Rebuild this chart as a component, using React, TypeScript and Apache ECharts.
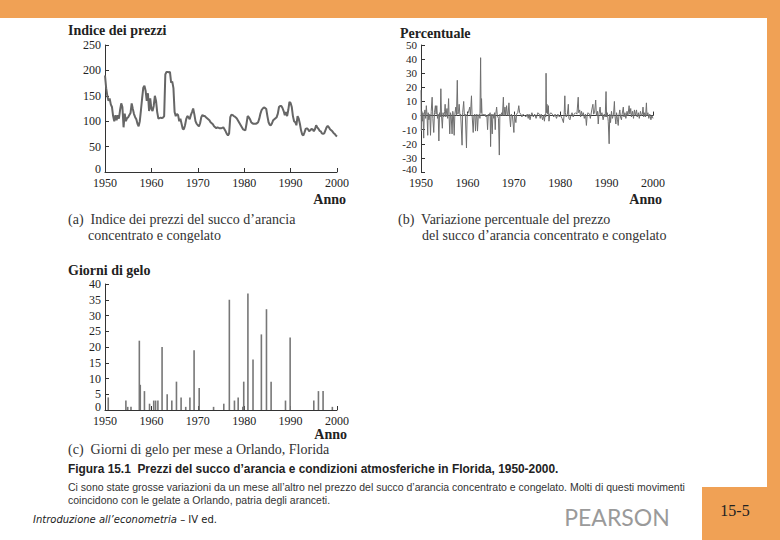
import React, { useEffect, useRef } from "react";
import * as echarts from "echarts";

// (a) price index, quarterly readings from 1950.00 to 2000.00
const PRICE_START = 1950;
const PRICE_STEP = 0.25;
const priceIndex = [
  190, 165, 150, 140,
  145, 133, 128, 110,
  100, 112, 102, 112,
  105, 122, 135, 128,
  88, 115, 100, 106,
  108, 112, 116, 135,
  124, 114, 108, 104,
  95, 90, 100, 122,
  145, 166, 170, 160,
  140, 155, 120, 145,
  124, 120, 130, 150,
  140, 118, 105, 106,
  107, 106, 107, 110,
  192, 197, 197, 196,
  197, 176, 178, 165,
  118, 110, 114, 112,
  100, 105, 95, 85,
  84, 92, 104, 110,
  108, 104, 112, 118,
  125, 114, 100, 95,
  92, 90, 96, 108,
  112, 110, 110, 108,
  106, 104, 102, 98,
  96, 94, 90, 88,
  86, 88, 87, 86,
  86, 87, 88, 84,
  80, 75, 72, 76,
  108, 113, 112, 110,
  109, 107, 104, 100,
  96, 92, 88, 84,
  83, 82, 95, 110,
  108, 104, 98, 96,
  95, 95, 95, 96,
  98, 105, 115, 122,
  125, 127, 126, 124,
  110, 98, 93, 92,
  96, 102, 104, 106,
  108, 115, 128, 130,
  130, 126, 120, 112,
  118, 110, 122, 138,
  136, 128, 110, 100,
  98, 92, 110, 105,
  95, 82, 74, 72,
  78, 85, 86, 84,
  80, 82, 85, 84,
  80, 84, 92, 88,
  85, 81, 80, 76,
  75, 76, 82, 88,
  91, 88, 84, 82,
  80, 77, 75, 72,
  70,
];

// (b) percent change [year, %]
const pctChange: [number, number][] = [
  [1950.0, 18], [1950.08, -11], [1950.17, 3], [1950.3, -4], [1950.42, 2], [1950.58, -16], [1950.7, 1], [1950.85, 4],
  [1951.0, -2], [1951.15, 7], [1951.3, 0], [1951.45, -14], [1951.55, 2], [1951.7, -3], [1951.9, 1],
  [1952.05, -14], [1952.2, 3], [1952.4, 13], [1952.55, -2], [1952.75, -12], [1952.9, 2],
  [1953.1, 7], [1953.25, 1], [1953.4, 7], [1953.55, -2], [1953.7, 1], [1953.85, -18], [1954.0, 2],
  [1954.15, -1], [1954.28, 19], [1954.42, 0], [1954.6, -9], [1954.75, 2], [1954.9, -1],
  [1955.1, 3], [1955.2, 8], [1955.35, -1], [1955.6, 5], [1955.75, -2], [1955.95, 12],
  [1956.05, 0], [1956.2, -13], [1956.35, 2], [1956.5, 0], [1956.7, -13], [1956.85, 3],
  [1957.0, -1], [1957.15, -14], [1957.3, 1], [1957.5, 6], [1957.65, 0], [1957.82, 25], [1957.95, 1],
  [1958.1, 3], [1958.22, 8], [1958.4, 0], [1958.55, 1], [1958.85, -21], [1958.98, 2],
  [1959.2, 10], [1959.35, 0], [1959.55, 1], [1959.8, -23], [1959.95, 1],
  [1960.2, 2], [1960.5, 6], [1960.65, 0], [1960.88, 14], [1961.0, 1],
  [1961.25, -12], [1961.4, 0], [1961.6, 1], [1961.75, -11], [1961.9, 0],
  [1962.05, 1], [1962.18, -11], [1962.35, 0], [1962.6, 1], [1962.7, -2], [1962.85, 41], [1962.95, 2],
  [1963.05, 12], [1963.15, 0], [1963.4, 1], [1963.6, 0], [1963.8, 1],
  [1964.0, -1], [1964.2, 0], [1964.35, -10], [1964.5, 1], [1964.7, 0], [1964.9, 2],
  [1965.0, -22], [1965.12, 1], [1965.35, -13], [1965.5, 1], [1965.7, -2], [1965.85, 2],
  [1966.0, -10], [1966.12, 1], [1966.3, 6], [1966.45, 0], [1966.7, -2], [1966.88, -28],
  [1967.0, 1], [1967.2, 0], [1967.4, 2], [1967.55, 0], [1967.75, 13], [1967.88, 0],
  [1968.1, 6], [1968.25, 0], [1968.45, 7], [1968.6, 1], [1968.75, 0], [1968.95, 9],
  [1969.1, 0], [1969.3, -8], [1969.45, 1], [1969.7, 0],
  [1970.02, -12], [1970.15, 1], [1970.45, -5], [1970.6, 1], [1970.85, 2],
  [1971.08, 7], [1971.25, 2], [1971.5, 1], [1971.75, -1],
  [1972.0, 1], [1972.3, 0], [1972.6, -1], [1972.9, 1],
  [1973.1, -2], [1973.3, 1], [1973.5, -3], [1973.7, 0], [1973.9, 2],
  [1974.2, -1], [1974.5, 1], [1974.8, -2],
  [1975.0, 0], [1975.2, 2], [1975.5, 1], [1975.7, -2], [1975.9, 1],
  [1976.2, -3], [1976.4, 0], [1976.6, -4], [1976.75, 1], [1976.88, -1], [1976.95, 30],
  [1977.05, 2], [1977.15, 8], [1977.3, 1], [1977.45, 7], [1977.58, -4], [1977.75, 1],
  [1978.0, 2], [1978.3, 1], [1978.6, -1], [1978.9, 1],
  [1979.2, -2], [1979.5, 1], [1979.8, -1],
  [1980.1, 0], [1980.4, -2], [1980.7, -5], [1980.85, 1],
  [1981.0, 14], [1981.1, 2], [1981.3, -1], [1981.55, 1], [1981.75, 8], [1981.88, -2],
  [1982.1, -3], [1982.3, 0], [1982.55, 2], [1982.8, -1],
  [1983.0, 1], [1983.3, 2], [1983.6, 1], [1983.88, 13],
  [1984.0, 2], [1984.2, 4], [1984.4, -1], [1984.6, 3], [1984.8, 0],
  [1985.0, 2], [1985.2, -2], [1985.45, 1], [1985.65, -7], [1985.8, 0],
  [1986.0, 2], [1986.3, 1], [1986.5, -2], [1986.8, 4],
  [1987.05, 8], [1987.2, 1], [1987.4, 2], [1987.65, 11], [1987.8, 0],
  [1988.05, 3], [1988.2, -6], [1988.35, 1], [1988.6, 6], [1988.75, 0],
  [1989.0, 2], [1989.25, -3], [1989.5, 1], [1989.7, -1], [1989.88, 17],
  [1990.0, -1], [1990.15, 2], [1990.35, -4], [1990.55, -20], [1990.68, 1], [1990.85, -5],
  [1991.05, 3], [1991.25, -2], [1991.5, 1], [1991.68, 10], [1991.8, 0],
  [1992.0, -6], [1992.15, 2], [1992.35, -3], [1992.5, -7], [1992.65, 0], [1992.85, 4],
  [1993.0, -1], [1993.2, -3], [1993.35, 1], [1993.6, 6], [1993.75, -1], [1993.95, 2],
  [1994.15, -2], [1994.4, 3], [1994.6, 0], [1994.85, 7],
  [1995.0, 1], [1995.2, 5], [1995.35, -1], [1995.6, 3], [1995.8, -2],
  [1996.0, 4], [1996.2, 0], [1996.45, 4], [1996.6, -1], [1996.85, 2],
  [1997.05, -2], [1997.3, 3], [1997.5, 0], [1997.7, 1], [1997.85, 6],
  [1998.0, -1], [1998.2, 2], [1998.4, -1], [1998.58, 9], [1998.7, 0], [1998.9, 2],
  [1999.1, -2], [1999.3, 1], [1999.55, -3], [1999.75, 0], [2000.0, -2],
];

// (c) frost days per month [year, days]
const frostDays: [number, number][] = [
  [1950.7, 4], [1954.5, 3], [1954.9, 1], [1955.6, 1], [1957.4, 22], [1957.6, 8], [1958.5, 6],
  [1959.6, 2], [1960.5, 3], [1960.9, 3], [1961.4, 3], [1962.3, 20], [1963.4, 5], [1964.4, 3],
  [1965.4, 9], [1966.4, 4], [1967.4, 1], [1968.3, 4], [1969.2, 19], [1970.3, 7], [1973.4, 1],
  [1975.6, 2], [1976.8, 35], [1977.9, 3], [1978.7, 4], [1979.7, 1], [1979.9, 9], [1980.8, 37],
  [1981.9, 16], [1983.7, 24], [1984.8, 32], [1985.8, 9], [1988.9, 3], [1989.9, 23],
  [1995.0, 3], [1996.0, 6], [1997.0, 6], [1999.0, 1],
];

const ORANGE = "#F0A155";
const SERIF = '"Liberation Serif", "Times New Roman", serif';
const AXIS = "#333";

function axisX(grid: number) {
  return {
    gridIndex: grid,
    type: "value",
    min: 1950,
    max: 2000,
    interval: 10,
    axisLine: { show: true, lineStyle: { color: AXIS, width: 1 } },
    axisTick: { show: true, inside: true, length: 4, lineStyle: { color: AXIS } },
    axisLabel: {
      margin: 5,
      color: "#222",
      fontFamily: SERIF,
      fontSize: 12,
      formatter: (v: number) => String(v),
    },
    splitLine: { show: false },
  };
}

function axisY(grid: number, min: number, max: number, interval: number, fs: number) {
  return {
    gridIndex: grid,
    type: "value",
    min,
    max,
    interval,
    axisLine: { show: true, lineStyle: { color: AXIS, width: 1 } },
    axisTick: { show: true, inside: true, length: 4, lineStyle: { color: AXIS } },
    axisLabel: {
      margin: 4,
      color: "#222",
      fontFamily: SERIF,
      fontSize: fs,
      formatter: (v: number) => (v === min ? `{z|${v}}` : String(v)),
      rich: {
        z: { fontFamily: SERIF, fontSize: fs, color: "#222", padding: [0, 0, 6, 0] },
      },
    },
    splitLine: { show: false },
  };
}

function txt(x: number, y: number, text: string, font: string, fill = "#222", align = "left") {
  return {
    type: "text",
    x,
    y,
    style: { text, font, fill, align, verticalAlign: "middle" },
  };
}

export default function App() {
  const ref = useRef<HTMLDivElement>(null);

  useEffect(() => {
    if (!ref.current) return;
    const chart = echarts.init(ref.current, undefined, { renderer: "svg" });
    const priceData = priceIndex.map((v, i) => [PRICE_START + i * PRICE_STEP, v]);

    const titleFont = `bold 14px ${SERIF}`;
    const capFont = `14px ${SERIF}`;
    const sans = '"Liberation Sans", Arial, sans-serif';

    chart.setOption({
      animation: false,
      backgroundColor: "#ffffff",
      grid: [
        { left: 105, top: 45, width: 232, height: 127 },
        { left: 421, top: 45, width: 232, height: 127 },
        { left: 105, top: 284, width: 232, height: 126 },
      ],
      xAxis: [axisX(0), axisX(1), axisX(2)],
      yAxis: [
        axisY(0, 0, 250, 50, 12),
        axisY(1, -40, 50, 10, 11),
        axisY(2, 0, 40, 5, 12),
      ],
      series: [
        {
          type: "line",
          xAxisIndex: 0,
          yAxisIndex: 0,
          data: priceData,
          showSymbol: false,
          lineStyle: { color: "#666", width: 2 },
        },
        {
          type: "line",
          xAxisIndex: 1,
          yAxisIndex: 1,
          data: pctChange,
          showSymbol: false,
          lineStyle: { color: "#6e6e6e", width: 1 },
        },
        {
          type: "bar",
          xAxisIndex: 2,
          yAxisIndex: 2,
          data: frostDays,
          barWidth: 1.6,
          itemStyle: { color: "#777" },
        },
      ],
      graphic: [
        { type: "rect", shape: { x: 0, y: 0, width: 780, height: 18 }, style: { fill: ORANGE } },
        { type: "rect", shape: { x: 767, y: 0, width: 13, height: 540 }, style: { fill: ORANGE } },
        { type: "rect", shape: { x: 702, y: 487, width: 78, height: 53 }, style: { fill: ORANGE } },
        txt(735, 510, "15-5", `16px ${SERIF}`, "#222", "center"),

        txt(68, 30, "Indice dei prezzi", titleFont),
        txt(346, 199, "Anno", titleFont, "#222", "right"),
        txt(68, 219, "(a)  Indice dei prezzi del succo d\u2019arancia", capFont, "#333"),
        txt(88, 235, "concentrato e congelato", capFont, "#333"),

        txt(400, 33, "Percentuale", titleFont),
        txt(662, 199, "Anno", titleFont, "#222", "right"),
        txt(398, 219, "(b)  Variazione percentuale del prezzo", capFont, "#333"),
        txt(422, 235, "del succo d\u2019arancia concentrato e congelato", capFont, "#333"),

        txt(68, 270, "Giorni di gelo", titleFont),
        txt(347, 434, "Anno", titleFont, "#222", "right"),
        txt(68, 449, "(c)  Giorni di gelo per mese a Orlando, Florida", capFont, "#333"),

        txt(68, 469, "Figura 15.1  Prezzi del succo d\u2019arancia e condizioni atmosferiche in Florida, 1950-2000.", `bold 11.9px ${sans}`, "#222"),
        txt(68, 487, "Ci sono state grosse variazioni da un mese all\u2019altro nel prezzo del succo d\u2019arancia concentrato e congelato. Molti di questi movimenti", `10.5px ${sans}`, "#333"),
        txt(68, 500, "coincidono con le gelate a Orlando, patria degli aranceti.", `10.5px ${sans}`, "#333"),

        {
          type: "text",
          x: 33,
          y: 519,
          style: {
            text: "{i|Introduzione all\u2019econometria} {n|\u2013 IV ed.}",
            verticalAlign: "middle",
            rich: {
              i: { fontStyle: "italic", fontSize: 10, fontFamily: '"DejaVu Sans", sans-serif', fill: "#222" },
              n: { fontSize: 10, fontFamily: '"DejaVu Sans", sans-serif', fill: "#222" },
            },
          },
        },
        txt(617, 517, "PEARSON", `23px "Lato", "Open Sans", sans-serif`, "#9a9a9a", "center"),
      ],
    });

    return () => chart.dispose();
  }, []);

  return (
    <div
      ref={ref}
      style={{ position: "absolute", left: 0, top: 0, width: 780, height: 540 }}
    />
  );
}
